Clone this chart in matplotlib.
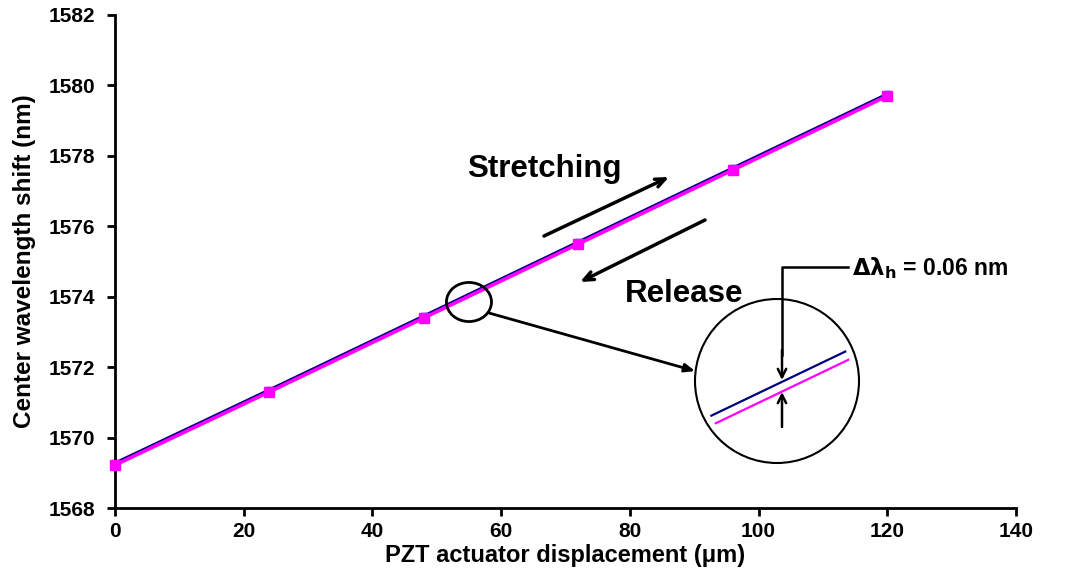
import matplotlib
matplotlib.use("Agg")
import matplotlib.pyplot as plt
from matplotlib.patches import Circle, Ellipse
import numpy as np

# datos
disp = [0, 24, 48, 72, 96, 120]                                   # um
stretch = [1569.28, 1571.36, 1573.46, 1575.56, 1577.66, 1579.76]  # nm (azul)
release = [1569.22, 1571.30, 1573.40, 1575.50, 1577.60, 1579.70]  # nm (magenta)

xticks = [0, 20, 40, 60, 80, 100, 120, 140]
yticks = [1568, 1570, 1572, 1574, 1576, 1578, 1580, 1582]

navy = "#000080"
magenta = "#FF00FF"
font = "Liberation Sans"

W, H = 1074, 586
fig = plt.figure(figsize=(W / 100, H / 100), dpi=100)
ax = fig.add_axes([115 / W, 78 / H, 901 / W, 493 / H])

ax.plot(disp, stretch, color=navy, lw=2, marker="s", ms=5, zorder=3, clip_on=False)
ax.plot(disp, release, color=magenta, lw=2.6, marker="s", ms=7.5, zorder=4, clip_on=False)

ax.set_xlim(0, 140)
ax.set_ylim(1568, 1582)
ax.set_xticks(xticks)
ax.set_yticks(yticks)
for s in ["top", "right"]:
    ax.spines[s].set_visible(False)
for s in ["left", "bottom"]:
    ax.spines[s].set_linewidth(2)
ax.tick_params(direction="out", length=6, width=2)
ax.tick_params(axis="x", pad=4)
ax.tick_params(axis="y", pad=8)
for lab in ax.get_xticklabels() + ax.get_yticklabels():
    lab.set_fontfamily(font)
    lab.set_fontweight("bold")
    lab.set_fontsize(15)

ax.set_xlabel("PZT actuator displacement (\u03bcm)", fontsize=17, fontweight="bold",
              fontfamily=font, labelpad=2)
ax.set_ylabel("Center wavelength shift (nm)", fontsize=17.5, fontweight="bold",
              fontfamily=font, labelpad=9)

# elipse pequena sobre la zona ampliada
zx, zy = 55, 1573.85
ax.add_patch(Ellipse((zx, zy), 7.0, 1.11, fill=False, ec="black", lw=2, zorder=5))

# capa encima en pixeles para flechas y textos
ov = fig.add_axes([0, 0, 1, 1], zorder=10)
ov.set_xlim(0, W)
ov.set_ylim(H, 0)
ov.axis("off")
ov.patch.set_alpha(0)

# ampliacion circular
cx, cy, r = 777, 381, 82
ins = fig.add_axes([(cx - r) / W, (H - cy - r) / H, 2 * r / W, 2 * r / H], zorder=8)
ins.axis("off")
ins.patch.set_alpha(0)
mag = 4.6
xr = 2 * r / (6.436 * mag)
yr = 2 * r / (35.21 * mag)
yc = np.interp(zx, disp, release) + 0.08
ins.set_xlim(zx - xr / 2, zx + xr / 2)
ins.set_ylim(yc - yr / 2, yc + yr / 2)
clip = Circle((0.5, 0.5), 0.46, transform=ins.transAxes)
l1, = ins.plot(disp, stretch, color=navy, lw=1.6)
l2, = ins.plot(disp, release, color=magenta, lw=1.6)
l1.set_clip_path(clip)
l2.set_clip_path(clip)

ov.add_patch(Circle((cx, cy), r, fill=False, ec="black", lw=1.5))

# linea de la elipse al circulo
ov.annotate("", xy=(695, 371), xytext=(489, 313),
            arrowprops=dict(arrowstyle="-|>,head_length=0.6,head_width=0.25",
                            color="black", lw=2, shrinkA=0, shrinkB=0))

# flechas de estiramiento / liberacion
ov.annotate("", xy=(669, 177), xytext=(544, 236),
            arrowprops=dict(arrowstyle="->,head_length=0.7,head_width=0.3",
                            color="black", lw=2.5, shrinkA=0, shrinkB=0))
ov.annotate("", xy=(580, 282), xytext=(705, 220),
            arrowprops=dict(arrowstyle="->,head_length=0.7,head_width=0.3",
                            color="black", lw=2.5, shrinkA=0, shrinkB=0))
ov.text(467, 177, "Stretching", fontsize=22.5, fontweight="bold", fontfamily=font,
        ha="left", va="baseline")
ov.text(625, 302, "Release", fontsize=22.5, fontweight="bold", fontfamily=font,
        ha="left", va="baseline")

# marca de delta lambda
ov.plot([848, 782, 782], [267, 267, 355], color="black", lw=1.8)
ov.annotate("", xy=(782, 380), xytext=(782, 350),
            arrowprops=dict(arrowstyle="->,head_length=0.6,head_width=0.3",
                            color="black", lw=1.8, shrinkA=0, shrinkB=0))
ov.annotate("", xy=(782, 392), xytext=(782, 427),
            arrowprops=dict(arrowstyle="->,head_length=0.6,head_width=0.3",
                            color="black", lw=1.8, shrinkA=0, shrinkB=0))
ov.text(852, 268, r"$\mathbf{\Delta\lambda_h}$ = 0.06 nm", fontsize=16.5, fontweight="bold",
        fontfamily=font, ha="left", va="center")

fig.savefig("out.png", dpi=100)
